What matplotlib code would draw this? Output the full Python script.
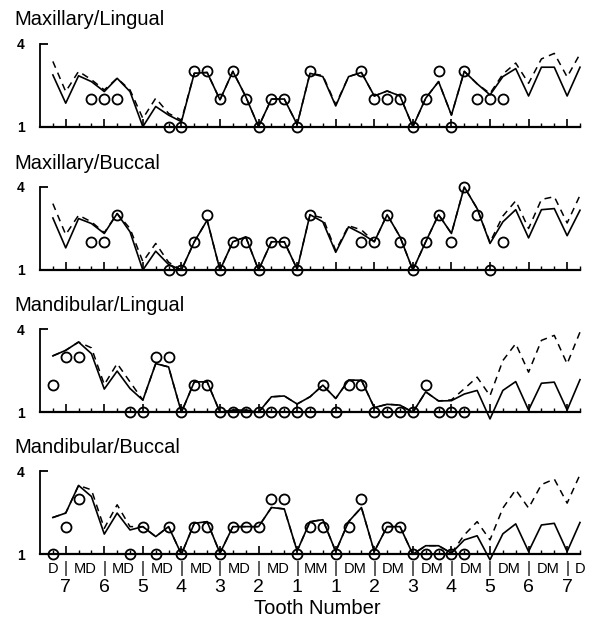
import numpy as np
import matplotlib.pyplot as plt
from matplotlib.transforms import blended_transform_factory

plt.rcParams['font.family'] = ['Liberation Sans', 'DejaVu Sans']

# Sites along the jaw: 14 teeth x 3 sites
sites = np.arange(1, 43)
teeth = [7, 6, 5, 4, 3, 2, 1, 1, 2, 3, 4, 5, 6, 7]
surfaces = ['D', 'MD', 'MD', 'MD', 'MD', 'MD', 'MD', 'MM',
            'DM', 'DM', 'DM', 'DM', 'DM', 'DM', 'D']
titles = ['Maxillary/Lingual', 'Maxillary/Buccal',
          'Mandibular/Lingual', 'Mandibular/Buccal']
nan = np.nan

# Maxillary / Lingual
mx_ling_solid = [2.87, 1.85, 2.84, 2.63, 2.27, 2.75, 2.27, 1.0, 1.73, 1.42,
                 1.18, 2.93, 2.96, 1.97, 3.0, 2.09, 1.0, 2.0, 2.0, 1.08,
                 2.93, 2.81, 1.75, 2.81, 2.96, 2.11, 2.29, 2.11, 1.0, 2.03,
                 2.63, 1.42, 3.0, 2.55, 2.15, 2.81, 3.1, 2.11, 3.15, 3.15,
                 2.11, 3.15]
mx_ling_dash = [3.36, 2.27, 3.0, 2.7, 2.33, 2.75, 2.33, 1.3, 2.03, 1.48,
                1.24, 2.93, 2.96, 1.97, 3.0, 2.09, 1.0, 2.0, 2.0, 1.08,
                2.93, 2.85, 1.8, 2.81, 2.96, 2.11, 2.29, 2.11, 1.0, 2.03,
                2.63, 1.42, 3.0, 2.55, 2.2, 2.9, 3.3, 2.57, 3.45, 3.65,
                2.8, 3.63]
mx_ling_obs = [nan, nan, nan, 2, 2, 2, nan, nan, nan, 1,
               1, 3, 3, 2, 3, 2, 1, 2, 2, 1,
               3, nan, nan, nan, 3, 2, 2, 2, 1, 2,
               3, 1, 3, 2, 2, 2, nan, nan, nan, nan,
               nan, nan]

# Maxillary / Buccal
mx_bucc_solid = [2.88, 1.8, 2.86, 2.68, 2.32, 3.04, 2.38, 1.0, 1.68, 1.2,
                 1.0, 2.02, 2.8, 1.0, 2.02, 2.2, 1.0, 2.02, 2.02, 1.03,
                 3.0, 2.74, 1.64, 2.56, 2.32, 2.02, 3.0, 2.2, 1.0, 2.02,
                 3.0, 2.32, 4.0, 3.22, 1.96, 2.74, 3.18, 2.16, 3.18, 3.22,
                 2.24, 3.16]
mx_bucc_dash = [3.4, 2.28, 2.98, 2.74, 2.35, 3.04, 2.5, 1.3, 1.96, 1.28,
                1.0, 2.02, 2.8, 1.0, 2.02, 2.2, 1.0, 2.02, 2.02, 1.03,
                3.0, 2.88, 1.7, 2.6, 2.45, 2.02, 3.0, 2.2, 1.0, 2.02,
                3.0, 2.32, 4.0, 3.22, 2.0, 2.95, 3.5, 2.5, 3.55, 3.65,
                2.7, 3.7]
mx_bucc_obs = [nan, nan, nan, 2, 2, 3, nan, nan, nan, 1,
               1, 2, 3, 1, 2, 2, 1, 2, 2, 1,
               3, nan, nan, nan, 2, 2, 3, 2, 1, 2,
               3, 2, 4, 3, 1, 2, nan, nan, nan, nan,
               nan, nan]

# Mandibular / Lingual
md_ling_solid = [3.04, 3.24, 3.54, 3.12, 1.84, 2.49, 1.86, 1.44, 2.76, 2.64,
                 1.0, 2.1, 2.1, 1.0, 1.08, 1.08, 1.0, 1.56, 1.59, 1.3,
                 1.56, 1.98, 1.5, 2.16, 2.16, 1.17, 1.29, 1.26, 1.0, 1.74,
                 1.41, 1.42, 1.66, 1.79, 0.76, 1.79, 2.11, 1.08, 2.05, 2.09,
                 1.08, 2.18]
md_ling_dash = [3.04, 3.24, 3.54, 3.33, 2.0, 2.76, 2.1, 1.44, 2.76, 2.64,
                1.0, 2.1, 2.1, 1.0, 1.08, 1.08, 1.0, 1.56, 1.59, 1.3,
                1.56, 1.98, 1.5, 2.16, 2.16, 1.17, 1.29, 1.26, 1.0, 1.74,
                1.41, 1.45, 1.85, 2.27, 1.6, 2.87, 3.48, 2.45, 3.6, 3.78,
                2.75, 3.9]
md_ling_obs = [2, 3, 3, nan, nan, nan, 1, 1, 3, 3,
               1, 2, 2, 1, 1, 1, 1, 1, 1, 1,
               1, 2, 1, 2, 2, 1, 1, 1, 1, 2,
               1, 1, 1, nan, nan, nan, nan, nan, nan, nan,
               nan, nan]

# Mandibular / Buccal
md_bucc_solid = [2.33, 2.49, 3.49, 3.09, 1.73, 2.49, 1.88, 2.0, 1.64, 2.0,
                 1.0, 2.12, 2.18, 1.04, 2.0, 2.0, 2.0, 2.69, 2.64, 1.12,
                 2.18, 2.25, 1.1, 2.18, 2.69, 1.1, 2.0, 2.0, 1.0, 1.31,
                 1.31, 1.04, 1.52, 1.67, 0.8, 1.74, 2.1, 1.1, 2.06, 2.12,
                 1.1, 2.15]
md_bucc_dash = [2.33, 2.49, 3.49, 3.33, 1.94, 2.79, 2.0, 2.0, 1.64, 2.0,
                1.0, 2.12, 2.18, 1.04, 2.0, 2.0, 2.0, 2.69, 2.64, 1.12,
                2.18, 2.25, 1.1, 2.18, 2.69, 1.1, 2.0, 2.0, 1.0, 1.31,
                1.31, 1.04, 1.7, 2.18, 1.52, 2.67, 3.33, 2.67, 3.52, 3.72,
                2.85, 3.88]
md_bucc_obs = [1, 2, 3, nan, nan, nan, 1, 2, 1, 2,
               1, 2, 2, 1, 2, 2, 2, 3, 3, 1,
               2, 2, 1, 2, 3, 1, 2, 2, 1, 1,
               1, 1, 1, nan, nan, nan, nan, nan, nan, nan,
               nan, nan]

panels = [
    (mx_ling_solid, mx_ling_dash, mx_ling_obs),
    (mx_bucc_solid, mx_bucc_dash, mx_bucc_obs),
    (md_ling_solid, md_ling_dash, md_ling_obs),
    (md_bucc_solid, md_bucc_dash, md_bucc_obs),
]

W, H = 597, 621
fig = plt.figure(figsize=(W / 100, H / 100), dpi=100)

bottoms_px = [126.7, 270.0, 412.3, 554.3]  # pixel row of y=1
height_px = 83.0

major = np.arange(2, 43, 3)
minor = np.array([s for s in sites if s not in major])

axes = []
for k, (solid, dash, obs) in enumerate(panels):
    y1 = bottoms_px[k]
    ax = fig.add_axes([40 / W, 1 - y1 / H, 540 / W, height_px / H])
    axes.append(ax)

    ax.plot(sites, dash, color='black', lw=1.1, ls=(0, (4.5, 3.5)),
            clip_on=False, zorder=2)
    ax.plot(sites, solid, color='black', lw=1.2, clip_on=False, zorder=3)
    ax.plot(sites, obs, ls='none', marker='o', ms=7.2, mfc='none',
            mec='black', mew=1.3, clip_on=False, zorder=4)

    ax.set_xlim(0, 42)
    ax.set_ylim(1, 4)
    for s in ['top', 'right']:
        ax.spines[s].set_visible(False)
    ax.spines['left'].set_linewidth(1.3)
    ax.spines['bottom'].set_linewidth(1.6)

    ax.set_yticks([1, 4])
    ax.set_yticklabels(['1', '4'], fontsize=10, fontweight='bold')
    ax.tick_params(axis='y', direction='in', length=6, width=1.3, pad=11)

    ax.set_xticks(major)
    ax.set_xticks(minor, minor=True)
    ax.tick_params(axis='x', which='major', direction='in', length=6,
                   width=1.2, labelbottom=False)
    ax.tick_params(axis='x', which='minor', direction='in', length=3,
                   width=1.0)

    fig.text(14 / W, 1 - (y1 - height_px - 18.3) / H, titles[k],
             fontsize=14.5, ha='left', va='baseline')

# Surface and tooth labels under the last panel
ax = axes[-1]
tr = blended_transform_factory(ax.transData, fig.transFigure)
surf_x = [1] + [3.5 + 3 * j for j in range(13)] + [42]
for x, lab in zip(surf_x, surfaces):
    ax.text(x, 1 - 572.7 / H, lab, transform=tr, ha='center',
            va='baseline', fontsize=10.5)
for x in major:
    ax.text(x, 1 - 573.5 / H, '|', transform=tr, ha='center',
            va='baseline', fontsize=11.5)
for x, t in zip(major, teeth):
    ax.text(x, 1 - 591.7 / H, str(t), transform=tr, ha='center',
            va='baseline', fontsize=14)
fig.text(317 / W, 1 - 614 / H, 'Tooth Number', ha='center',
         va='baseline', fontsize=14.5)

fig.savefig('out.png', dpi=100)
